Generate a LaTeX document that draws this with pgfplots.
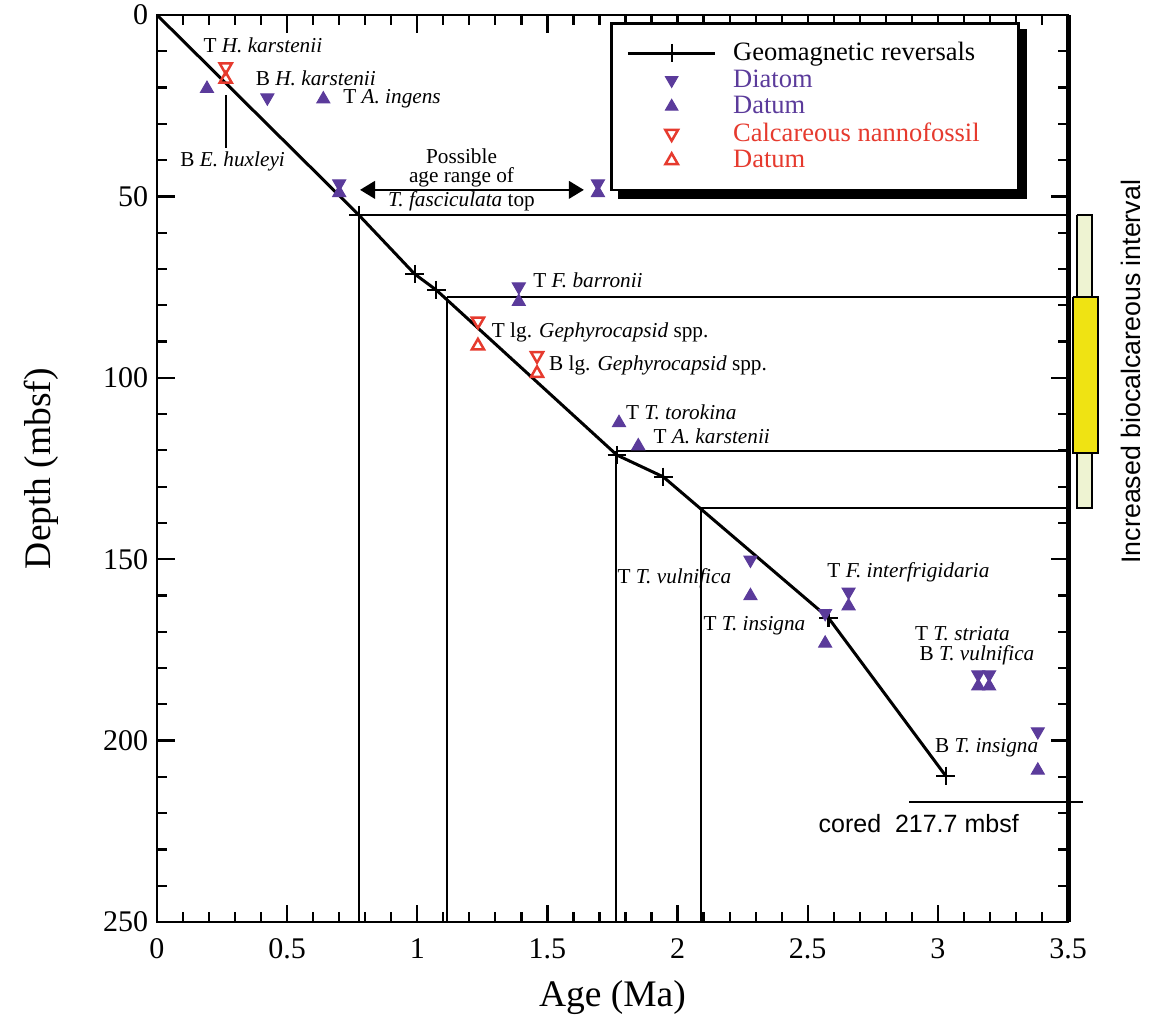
\documentclass[border=0pt]{standalone}
\usepackage{fontspec}
\setmainfont{Liberation Serif}
\setsansfont{Liberation Sans}
\usepackage{pgfplots}
\pgfplotsset{compat=1.18}
\usetikzlibrary{arrows.meta}
\pgfdeclarelayer{background}
\pgfsetlayers{background,main}
\definecolor{purp}{HTML}{5B3B9B}
\definecolor{nred}{HTML}{E63A2E}
\definecolor{paleyel}{HTML}{EEF3D2}
\definecolor{yel}{HTML}{EFE313}
\pgfplotsset{
  geolegend/.style={legend image code/.code={%
      \draw[black,line width=1.2pt] (0pt,0pt) -- (35pt,0pt);
      \draw[black,line width=0.9pt,mark=+,mark size=3.7pt] plot coordinates {(17.5pt,0pt)};}},
  marklegend/.style={legend image code/.code={%
      \pgfpathmoveto{\pgfpointorigin}\pgfpathlineto{\pgfpoint{35pt}{0pt}}\pgfusepath{discard}%
      \draw[##1, mark size=2.9pt] plot coordinates {(17.5pt,0pt)};}},
}
\tikzset{ann/.style={anchor=west, inner sep=0pt, font=\fontsize{8.5}{10}\selectfont}}
\begin{document}
\begin{tikzpicture}
\begin{axis}[name=ax, scale only axis, width=364.4pt, height=362.8pt,
  xmin=0, xmax=3.5, ymin=0, ymax=250, y dir=reverse,
  xtick={0,0.5,1,1.5,2,2.5,3,3.5}, ytick={0,50,100,150,200,250},
  minor x tick num=4, minor y tick num=4,
  tick align=inside, xtick pos=both, ytick pos=both,
  major tick length=7pt, minor tick length=4pt,
  tick style={line width=0.9pt, black},
  axis line style={line width=1.1pt},
  clip=false,
  /pgf/number format/assume math mode=true,
  tick label style={font=\fontsize{12}{14}\selectfont},
  xticklabel style={yshift=-3pt},
  xlabel={Age (Ma)}, ylabel={Depth (mbsf)},
  label style={font=\fontsize{15}{18}\selectfont},
  xlabel style={at={(axis description cs:0.5,-0.083)}, anchor=center},
  ylabel style={at={(axis description cs:-0.127,0.5)}, anchor=center},
  legend style={name=legbox, at={(axis description cs:0.4973,0.9923)}, anchor=north west,
    draw=black, line width=1.1pt, fill=white,
    font=\fontsize{10.6}{12}\selectfont, inner xsep=6pt, inner ysep=5.5pt,
    row sep=-1.9pt, column sep=4.5pt,
    cells={anchor=west}},
]
% drop lines
\addplot[black, line width=0.8pt, forget plot] coordinates {(0.775,55.1) (0.775,250)};
\addplot[black, line width=0.8pt, forget plot] coordinates {(0.775,55.1) (3.5,55.1)};
\addplot[black, line width=0.8pt, forget plot] coordinates {(1.114,77.7) (1.114,250)};
\addplot[black, line width=0.8pt, forget plot] coordinates {(1.114,77.7) (3.5,77.7)};
\addplot[black, line width=0.8pt, forget plot] coordinates {(1.764,120.3) (1.764,250)};
\addplot[black, line width=0.8pt, forget plot] coordinates {(1.764,120.3) (3.5,120.3)};
\addplot[black, line width=0.8pt, forget plot] coordinates {(2.09,136) (2.09,250)};
\addplot[black, line width=0.8pt, forget plot] coordinates {(2.09,136) (3.5,136)};
% pointer for B E. huxleyi
\addplot[black, line width=0.8pt, forget plot] coordinates {(0.265,22) (0.265,36.7)};
% possible age range arrow
\addplot[black, line width=1pt, arrows={Triangle[length=6pt,width=7pt]-Triangle[length=6pt,width=7pt]}, forget plot] coordinates {(0.78,48.2) (1.64,48.2)};
% cored depth line
\addplot[black, line width=0.8pt, forget plot] coordinates {(2.89,217) (3.556,217)};
% biocalcareous interval bars
\addplot[draw=black, line width=0.8pt, fill=paleyel, forget plot] coordinates {(3.533,55.1) (3.594,55.1) (3.594,135.9) (3.533,135.9) (3.533,55.1)};
\addplot[draw=black, line width=0.8pt, fill=yel, forget plot] coordinates {(3.518,77.7) (3.617,77.7) (3.617,120.7) (3.518,120.7) (3.518,77.7)};
% geomagnetic reversals: line, then crosses
\addplot[black, line width=1.2pt, geolegend]
  coordinates {(0,0) (0.775,55.1) (0.99,71.4) (1.073,75.8) (1.767,121.3) (1.945,127.3) (2.58,166.2) (3.03,209.7)};
\addlegendentry{Geomagnetic reversals}
\addplot[only marks, black, mark=+, mark size=3.7pt, mark options={line width=0.9pt}, forget plot]
  coordinates {(0.775,55.1) (0.99,71.4) (1.073,75.8) (1.767,121.3) (1.945,127.3) (2.58,166.2) (3.03,209.7)};
% diatom down
\addplot[only marks, purp, mark=triangle*, mark size=3pt, mark options={rotate=180, fill=purp, draw=purp, line width=0.4pt}, marklegend]
  coordinates {(0.424,22.8) (0.70,46.5) (1.694,46.5) (1.39,74.9) (2.28,150.2) (2.567,164.9) (2.657,159.0) (3.155,181.8) (3.197,181.8) (3.384,197.5)};
\addlegendentry{\textcolor{purp}{Diatom}}
% diatom up
\addplot[only marks, purp, mark=triangle*, mark size=3pt, mark options={fill=purp, draw=purp, line width=0.4pt}, marklegend]
  coordinates {(0.192,20.3) (0.639,23.2) (0.70,49.0) (1.694,49.0) (1.39,79.0) (1.775,112.4) (1.849,118.8) (2.28,160.1) (2.567,173.2) (2.657,162.9) (3.155,185.0) (3.197,185.0) (3.384,208.2)};
\addlegendentry{\textcolor{purp}{Datum}}
% nannofossil down
\addplot[only marks, nred, mark=triangle, mark size=2.8pt, mark options={rotate=180, draw=nred, line width=1pt, fill=white}, marklegend]
  coordinates {(0.264,14.3) (1.233,84.4) (1.46,93.9)};
\addlegendentry{\textcolor{nred}{Calcareous nannofossil}\hspace*{7.5pt}}
% nannofossil up
\addplot[only marks, nred, mark=triangle, mark size=2.8pt, mark options={draw=nred, line width=1pt, fill=white}, marklegend]
  coordinates {(0.264,17.7) (1.233,91.2) (1.46,98.8)};
\addlegendentry{\textcolor{nred}{Datum}}
% thick right frame
\draw[line width=2pt] (rel axis cs:1,0) -- (rel axis cs:1,1);
% annotations
\node[ann] at (axis cs:0.177,8.3) {T \textit{H. karstenii}};
\node[ann] at (axis cs:0.378,17.4) {B \textit{H. karstenii}};
\node[ann] at (axis cs:0.714,23.2) {T \textit{A. ingens}};
\node[ann] at (axis cs:0.088,40.3) {B \textit{E. huxleyi}};
\node[ann, anchor=base] at (axis cs:1.17,40.8) {Possible};
\node[ann, anchor=base] at (axis cs:1.17,46.3) {age range of};
\node[ann, anchor=base] at (axis cs:1.17,52.8) {\textit{T. fasciculata} top};
\node[ann] at (axis cs:1.444,73.2) {T \textit{F. barronii}};
\node[ann] at (axis cs:1.285,87.6) {T lg. \textit{Gephyrocapsid} spp.};
\node[ann] at (axis cs:1.505,96.5) {B lg. \textit{Gephyrocapsid} spp.};
\node[ann] at (axis cs:1.80,109.6) {T \textit{T. torokina}};
\node[ann] at (axis cs:1.906,116.2) {T \textit{A. karstenii}};
\node[ann] at (axis cs:1.768,155.3) {T \textit{T. vulnifica}};
\node[ann] at (axis cs:2.098,168.4) {T \textit{T. insigna}};
\node[ann] at (axis cs:2.574,153.7) {T \textit{F. interfrigidaria}};
\node[ann] at (axis cs:2.911,170.6) {T \textit{T. striata}};
\node[ann] at (axis cs:2.928,176.4) {B \textit{T. vulnifica}};
\node[ann] at (axis cs:2.988,202.1) {B \textit{T. insigna}};
\node[ann, font=\sffamily\fontsize{10}{12}\selectfont] at (axis cs:2.54,223) {cored\ \ 217.7 mbsf};
\node[rotate=90, font=\sffamily\fontsize{10.7}{12}\selectfont] at (axis cs:3.74,98.3) {Increased biocalcareous interval};
\end{axis}
\begin{pgfonlayer}{background}
\fill[black] ([xshift=3pt,yshift=-3pt]legbox.south west) rectangle ([xshift=3pt,yshift=-3pt]legbox.north east);
\end{pgfonlayer}
\pgfresetboundingbox
\path ([shift={(-62.8pt,-39.6pt)}]ax.south west) rectangle ([shift={(32.8pt,6pt)}]ax.north east);
\end{tikzpicture}
\end{document}
